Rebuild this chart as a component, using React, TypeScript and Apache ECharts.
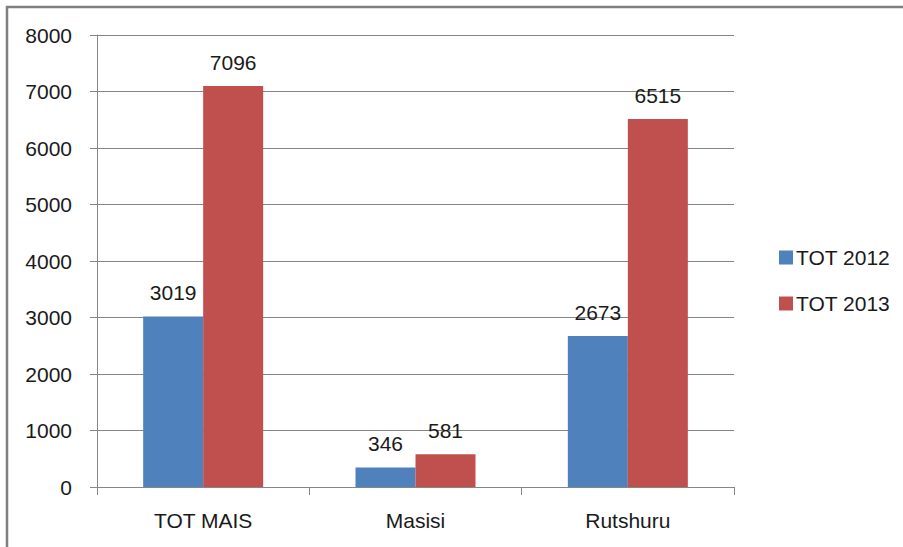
import React, { useEffect, useRef } from "react";
import * as echarts from "echarts";

const categories = ["TOT MAIS", "Masisi", "Rutshuru"];
const tot2012 = [3019, 346, 2673];
const tot2013 = [7096, 581, 6515];
const seriesNames = ["TOT 2012", "TOT 2013"];

const FONT = "Liberation Sans";
const TEXT = "#1a1a1a";
const AXIS = "#868686";

export default function App() {
  const ref = useRef<HTMLDivElement>(null);
  useEffect(() => {
    if (!ref.current) return;
    const chart = echarts.init(ref.current, undefined, { renderer: "svg" });
    const labelCfg = {
      show: true,
      position: "top",
      distance: 13,
      fontSize: 21,
      fontFamily: FONT,
      color: TEXT,
    };
    chart.setOption({
      animation: false,
      backgroundColor: "#ffffff",
      textStyle: { fontFamily: FONT },
      graphic: [
        {
          type: "rect",
          shape: { x: 7, y: 7, width: 1000, height: 700 },
          style: { fill: "none", stroke: "#7f7f7f", lineWidth: 2.5 },
          z: 100,
        },
      ],
      grid: { left: 97, top: 35, width: 637, height: 452 },
      legend: {
        orient: "vertical",
        left: 774,
        top: 242,
        itemWidth: 14,
        itemHeight: 14,
        itemGap: 25,
        icon: "rect",
        textStyle: { fontSize: 21, fontFamily: FONT, color: TEXT, padding: [0, 0, 0, -2] },
        data: seriesNames,
      },
      xAxis: {
        type: "category",
        data: categories,
        axisLine: { show: true, lineStyle: { color: AXIS, width: 1 } },
        axisTick: { show: true, length: 8, lineStyle: { color: AXIS } },
        axisLabel: { fontSize: 21, fontFamily: FONT, color: TEXT, margin: 23 },
      },
      yAxis: {
        type: "value",
        min: 0,
        max: 8000,
        interval: 1000,
        axisLine: { show: true, lineStyle: { color: AXIS, width: 1 } },
        axisTick: { show: true, length: 7, lineStyle: { color: AXIS } },
        axisLabel: {
          fontSize: 21,
          fontFamily: FONT,
          color: TEXT,
          margin: 25,
          formatter: (v: number) => String(v),
        },
        splitLine: { show: true, lineStyle: { color: AXIS, width: 1 } },
      },
      series: [
        {
          name: seriesNames[0],
          type: "bar",
          data: tot2012,
          barWidth: 60,
          barGap: "0%",
          itemStyle: { color: "#4F81BD" },
          label: labelCfg,
        },
        {
          name: seriesNames[1],
          type: "bar",
          data: tot2013,
          barWidth: 60,
          barGap: "0%",
          itemStyle: { color: "#C0504D" },
          label: labelCfg,
        },
      ],
    });
    return () => chart.dispose();
  }, []);
  return (
    <div
      ref={ref}
      style={{ position: "absolute", left: 0, top: 0, width: 903, height: 547 }}
    />
  );
}
